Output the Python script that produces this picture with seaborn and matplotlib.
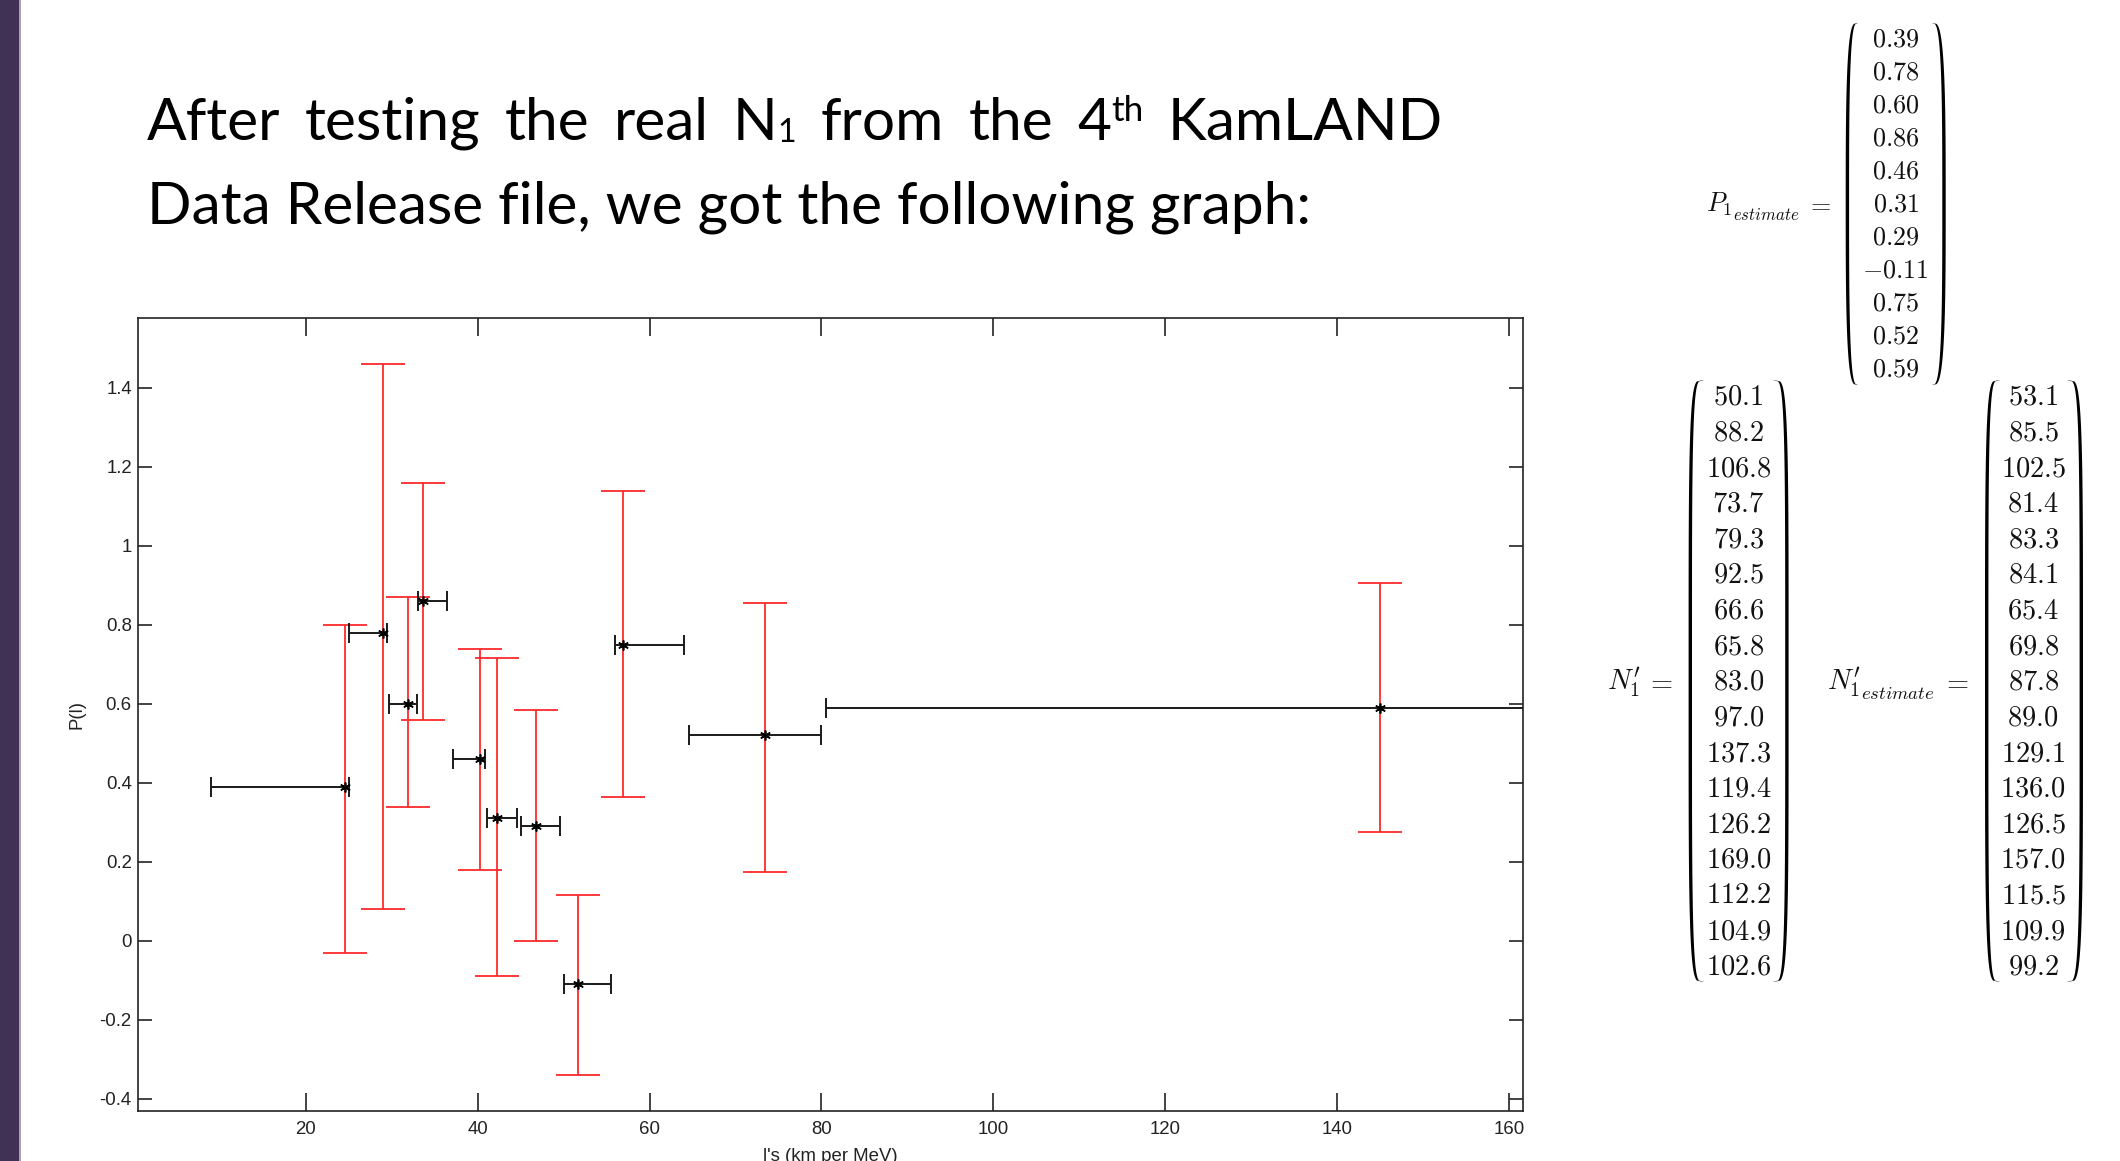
import numpy as np
import matplotlib
matplotlib.use("Agg")
import matplotlib.pyplot as plt
from matplotlib import font_manager
from matplotlib.patches import Polygon, Rectangle
import seaborn as sns

# ---- data -------------------------------------------------------------
dist_km_per_mev = [24.6, 29.0, 31.9, 33.7, 40.3, 42.2, 46.8, 51.7, 56.9, 73.4, 145.0]
dist_low = [9.0, 25.0, 29.65, 33.1, 37.1, 41.1, 45.0, 50.05, 56.0, 64.55, 80.5]
dist_high = [25.0, 29.5, 33.0, 36.5, 40.9, 44.55, 49.6, 55.5, 64.0, 80.0, 175.0]
p_estimate = [0.39, 0.78, 0.60, 0.86, 0.46, 0.31, 0.29, -0.11, 0.75, 0.52, 0.59]
p_low = [-0.03, 0.08, 0.34, 0.56, 0.18, -0.09, 0.00, -0.34, 0.365, 0.175, 0.275]
p_high = [0.80, 1.46, 0.87, 1.16, 0.74, 0.715, 0.585, 0.115, 1.14, 0.855, 0.905]

n1_prime = [50.1, 88.2, 106.8, 73.7, 79.3, 92.5, 66.6, 65.8, 83.0, 97.0,
            137.3, 119.4, 126.2, 169.0, 112.2, 104.9, 102.6]
n1_estimate = [53.1, 85.5, 102.5, 81.4, 83.3, 84.1, 65.4, 69.8, 87.8, 89.0,
               129.1, 136.0, 126.5, 157.0, 115.5, 109.9, 99.2]

x_ticks = [20, 40, 60, 80, 100, 120, 140, 160]
y_ticks = [-0.4, -0.2, 0, 0.2, 0.4, 0.6, 0.8, 1, 1.2, 1.4]
y_tick_labels = ["-0.4", "-0.2", "0", "0.2", "0.4", "0.6", "0.8", "1", "1.2", "1.4"]

title_line1 = [[("After", 1.0, 0)], [("testing", 1.0, 0)], [("the", 1.0, 0)],
               [("real", 1.0, 0)], [("N", 1.0, 0), ("1", 0.55, 2)],
               [("from", 1.0, 0)], [("the", 1.0, 0)],
               [("4", 1.0, 0), ("th", 0.6, -19)], [("KamLAND", 1.0, 0)]]
title_line2 = "Data Release file, we got the following graph:"

# ---- style ------------------------------------------------------------
sns.set_theme(style="white")
names = {f.name for f in font_manager.fontManager.ttflist}
TICK_FONT = "Liberation Sans Narrow" if "Liberation Sans Narrow" in names else "Liberation Sans"
TITLE_FONT = "Lato"
plt.rcParams["font.family"] = ["DejaVu Sans"]
plt.rcParams["mathtext.fontset"] = "cm"

W, H = 2120, 1161
fig = plt.figure(figsize=(W / 100, H / 100), dpi=100, facecolor="white")

# page overlay in pixel coordinates (y grows downward)
ov = fig.add_axes([0, 0, 1, 1], zorder=0)
ov.set_xlim(0, W)
ov.set_ylim(H, 0)
ov.axis("off")

ov.add_patch(Rectangle((0, 0), 19, H, fc="#403254", ec="none"))
ov.add_patch(Rectangle((19, 0), 1.5, H, fc="#a99ec0", ec="none"))

# ---- main chart -------------------------------------------------------
ax = fig.add_axes([138 / W, (H - 1111) / H, (1523 - 138) / W, (1111 - 318) / H], zorder=1)
ax.set_facecolor("white")

x = np.array(dist_km_per_mev)
y = np.array(p_estimate)
ax.errorbar(x, y, yerr=[y - np.array(p_low), np.array(p_high) - y], fmt="none",
            ecolor="#ff2b2b", elinewidth=1.3, capsize=15.5, capthick=1.3, zorder=2)
ax.errorbar(x, y, xerr=[x - np.array(dist_low), np.array(dist_high) - x], fmt="none",
            ecolor="#1a1a1a", elinewidth=1.4, capsize=7.5, capthick=1.4, zorder=3)
sns.scatterplot(x=x, y=y, marker=(6, 2, 0), s=45, color="black", edgecolor="black",
                linewidth=1.2, ax=ax, zorder=4, legend=False)

ax.set_xlim(0.5, 161.6)
ax.set_ylim(-0.431, 1.577)
ax.set_xticks(x_ticks)
ax.set_xticklabels([str(v) for v in x_ticks], family=TICK_FONT, fontsize=13.4)
ax.set_yticks(y_ticks)
ax.set_yticklabels(y_tick_labels, family=TICK_FONT, fontsize=13.4)
ax.tick_params(axis="x", direction="in", length=12.7, width=1.2, pad=7,
               top=True, bottom=True, colors="#222222")
ax.tick_params(axis="y", direction="in", length=9.9, width=1.2, pad=4.5,
               left=True, right=True, colors="#222222")
for sp in ax.spines.values():
    sp.set_visible(True)
    sp.set_color("#222222")
    sp.set_linewidth(1.2)
ax.set_xlabel("l's (km per MeV)", family=TICK_FONT, fontsize=13.4, labelpad=7.5, color="#222222")
ax.set_ylabel("P(l)", family=TICK_FONT, fontsize=13.4, labelpad=10, color="#222222")

# ---- heading ----------------------------------------------------------
renderer = fig.canvas.get_renderer()


def text_width(txt, size):
    t = ov.text(0, 0, txt, fontsize=size, family=TITLE_FONT)
    w = t.get_window_extent(renderer).width
    t.remove()
    return w


base = 48.0
fs = base * (1311 - 147) / text_width(title_line2, base)
ov.text(147, 224, title_line2, fontsize=fs, family=TITLE_FONT, color="black", va="baseline")

word_w = [sum(text_width(s, fs * k) for s, k, _ in word) for word in title_line1]
gap = ((1443 - 147) - sum(word_w)) / (len(title_line1) - 1)
cx = 147
for word, ww in zip(title_line1, word_w):
    px = cx
    for s, k, dy in word:
        ov.text(px, 140 + dy, s, fontsize=fs * k, family=TITLE_FONT, color="black", va="baseline")
        px += text_width(s, fs * k)
    cx += ww + gap

# ---- column vectors -----------------------------------------------------
INK = "#111111"


def paren(x0, x1, top, bot, side, p, thick=3.4, thin=1.0):
    s = np.linspace(-1, 1, 400)
    g = (1 - np.abs(s) ** p) ** (1 / p)
    yy = (top + bot) / 2 + s * (bot - top) / 2
    w = x1 - x0
    th = thin + (thick - thin) * g
    if side == "left":
        xo = x1 - w * g
        xi = xo + th
    else:
        xo = x0 + w * g
        xi = xo - th
    pts = np.c_[np.r_[xo, xi[::-1]], np.r_[yy, yy[::-1]]]
    ov.add_patch(Polygon(pts, closed=True, fc="black", ec="none"))


def column(values, fmt, xc, y_first, step, size):
    for i, v in enumerate(values):
        ov.text(xc, y_first + i * step, "$" + fmt.format(v) + "$", fontsize=size,
                ha="center", va="baseline", color=INK)


def math(xp, yp, s, size, ha="left"):
    return ov.text(xp, yp, s, fontsize=size, ha=ha, va="baseline", color=INK)


def right_edge(t):
    return t.get_window_extent(renderer).x1


# P_1 estimate
P_BASE = 46.7 + 5 * 33.0
column(p_estimate, "{:.2f}", 1895.7, 46.7, 33.0, 18.8)
paren(1845.7, 1857, 23, 385, "left", 3.2)
paren(1933, 1945.7, 23, 385, "right", 3.2)
t = math(1706, P_BASE, r"$P_1$", 18.8)
math(right_edge(t) + 0.5, P_BASE + 8, r"$estimate$", 12.2)
math(1819, P_BASE, r"$=$", 18.8, ha="center")

# N'_1
N_BASE = 404.8 + 8 * 35.62
column(n1_prime, "{:.1f}", 1738.6, 404.8, 35.62, 20.5)
paren(1688.6, 1703, 380, 982, "left", 4.5)
paren(1774, 1788.6, 380, 982, "right", 4.5)
math(1607, N_BASE, r"$N^{\prime}_{1}$", 20.5)
math(1660, N_BASE, r"$=$", 20.5, ha="center")

# N'_1 estimate
column(n1_estimate, "{:.1f}", 2033.2, 404.8, 35.62, 20.5)
paren(1985, 1999, 380, 982, "left", 4.5)
paren(2068, 2083, 380, 982, "right", 4.5)
t = math(1827, N_BASE, r"$N^{\prime}_{1}$", 20.5)
math(right_edge(t) + 0.5, N_BASE + 9.5, r"$estimate$", 13.4)
math(1955.5, N_BASE, r"$=$", 20.5, ha="center")

fig.savefig("out.png", dpi=100, facecolor="white")
